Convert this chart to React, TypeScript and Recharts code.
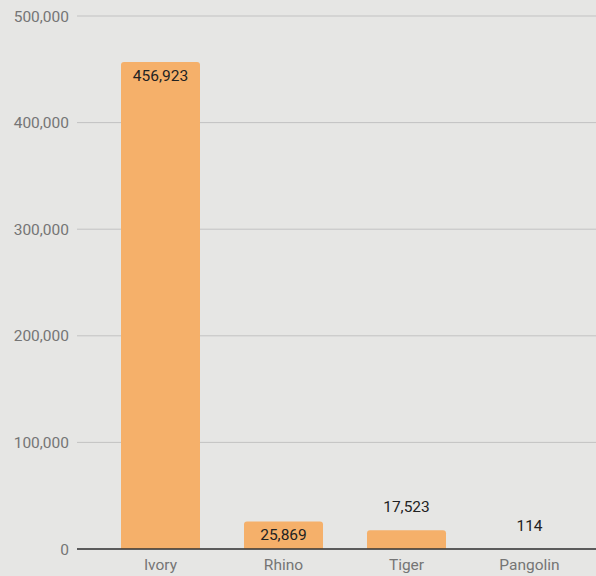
import React from "react";
import { BarChart, Bar, XAxis, YAxis, CartesianGrid, LabelList } from "recharts";

const categories = ["Ivory", "Rhino", "Tiger", "Pangolin"];
const seizures = [456923, 25869, 17523, 114];
const yTicks = [0, 100000, 200000, 300000, 400000, 500000];

const data = categories.map((name, i) => ({ name, value: seizures[i] }));

const fmt = (v: number) => v.toLocaleString("en-US");

const ValueLabel = (props: any) => {
  const { x, y, width, height, value } = props;
  const inside = height > 24;
  const cx = x + width / 2;
  const ty = inside ? y + 14 : y - 23;
  return (
    <text
      x={cx}
      y={ty}
      textAnchor="middle"
      dominantBaseline="central"
      fill="#222"
      fontSize={15.5}
      fontFamily="Roboto"
    >
      {fmt(value)}
    </text>
  );
};

export default function App() {
  return (
    <div style={{ position: "fixed", top: 0, left: 0, width: 596, height: 576, background: "#e6e6e4" }}>
      <BarChart
        width={596}
        height={576}
        data={data}
        margin={{ top: 16, right: 0, bottom: 0, left: 0 }}
        barCategoryGap={0}
      >
        <CartesianGrid vertical={false} stroke="#c2c2c2" strokeWidth={1} />
        <XAxis
          dataKey="name"
          height={27}
          padding={{ left: 22, right: 5 }}
          tickLine={false}
          axisLine={{ stroke: "#333", strokeWidth: 1.5 }}
          tick={{ fill: "#757575", fontSize: 15.5, fontFamily: "Roboto" }}
          tickMargin={4}
        />
        <YAxis
          width={77}
          domain={[0, 500000]}
          ticks={yTicks}
          tickFormatter={fmt}
          tickLine={false}
          axisLine={false}
          tick={{ fill: "#757575", fontSize: 15.5, fontFamily: "Roboto" }}
        />
        <Bar dataKey="value" fill="#f5b06a" barSize={79} radius={[3, 3, 0, 0]} isAnimationActive={false}>
          <LabelList dataKey="value" content={<ValueLabel />} />
        </Bar>
      </BarChart>
    </div>
  );
}
